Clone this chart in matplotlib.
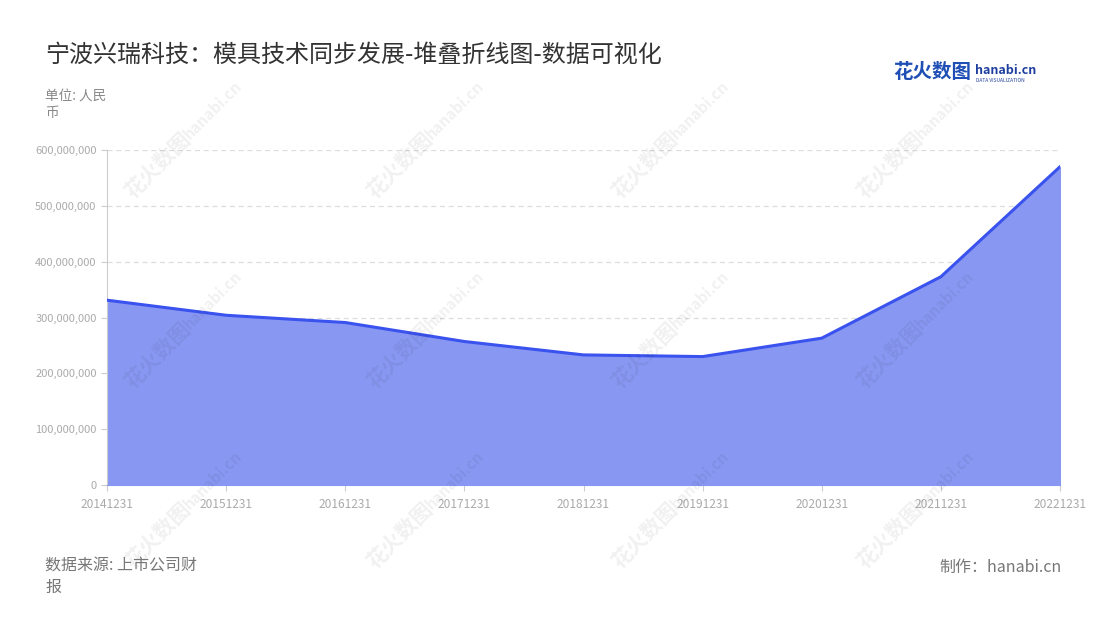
import matplotlib
matplotlib.use('Agg')
import matplotlib.pyplot as plt
from matplotlib.ticker import FuncFormatter

plt.rcParams['font.family'] = ['Noto Sans CJK SC', 'DejaVu Sans']

# data (RMB)
dates = ['20141231', '20151231', '20161231', '20171231', '20181231',
         '20191231', '20201231', '20211231', '20221231']
values = [331e6, 304e6, 291e6, 257e6, 233e6, 230e6, 263e6, 373e6, 570e6]
yticks = [0, 100e6, 200e6, 300e6, 400e6, 500e6, 600e6]

title = '宁波兴瑞科技：模具技术同步发展-堆叠折线图-数据可视化'
unit = '单位: 人民\n币'
source = '数据来源: 上市公司财\n报'
maker = '制作：hanabi.cn'

fig = plt.figure(figsize=(11, 6.2), dpi=100)
ax = fig.add_axes([107 / 1100, 1 - 485 / 620, (1060 - 107) / 1100, (485 - 150) / 620])

x = list(range(len(dates)))
ax.fill_between(x, 0, values, color='#8898f2', zorder=2)
ax.plot(x, values, color='#3a52ee', lw=2.2, zorder=3)

ax.set_xlim(0, len(dates) - 1)
ax.set_ylim(0, 600e6)
ax.set_xticks(x)
ax.set_xticklabels(dates)
ax.set_yticks(yticks)
ax.yaxis.set_major_formatter(FuncFormatter(lambda v, p: f'{int(v):,}'))
ax.grid(axis='y', color='#dddddd', ls=(0, (4, 3)), lw=0.9, zorder=1)
for s in ['top', 'right']:
    ax.spines[s].set_visible(False)
ax.spines['left'].set_color('#cccccc')
ax.spines['bottom'].set_color('#8898f2')
ax.tick_params(axis='both', colors='#cccccc', labelcolor='#aaaaaa', length=4)
ax.tick_params(axis='x', labelsize=8.6, pad=5)
ax.tick_params(axis='y', labelsize=8)

# faint watermarks
for wx in [158, 400, 645, 890]:
    for wy in [165, 355, 535]:
        fig.text(wx / 1100, 1 - wy / 620, '花火数图', fontsize=15, color='#000000',
                 alpha=0.06, rotation=45, ha='center', va='center',
                 fontweight='bold')
        fig.text((wx + 55) / 1100, 1 - (wy - 55) / 620, 'hanabi.cn', fontsize=11,
                 color='#000000', alpha=0.06, rotation=45, ha='center',
                 va='center', fontweight='bold')

fig.text(45 / 1100, 1 - 55 / 620, title, fontsize=17.3, color='#333333', va='center')
fig.text(45 / 1100, 1 - 89 / 620, unit, fontsize=9.8, color='#888888', va='top',
         linespacing=1.3)
fig.text(45 / 1100, 1 - 558 / 620, source, fontsize=11.5, color='#777777', va='top',
         linespacing=1.3)
fig.text(1062 / 1100, 1 - 567 / 620, maker, fontsize=11.5, color='#777777',
         ha='right', va='center')

# logo
fig.text(893 / 1100, 1 - 73 / 620, '花火数图', fontsize=14, color='#1f4fb5',
         fontweight='bold', va='center')
fig.text(975 / 1100, 1 - 70 / 620, 'hanabi.cn', fontsize=9, color='#1f3f9f',
         fontweight='bold', va='center')
fig.text(976 / 1100, 1 - 80 / 620, 'DATA VISUALIZATION', fontsize=3.5,
         color='#1f3f9f', va='center')

fig.savefig('out.png', dpi=100)
